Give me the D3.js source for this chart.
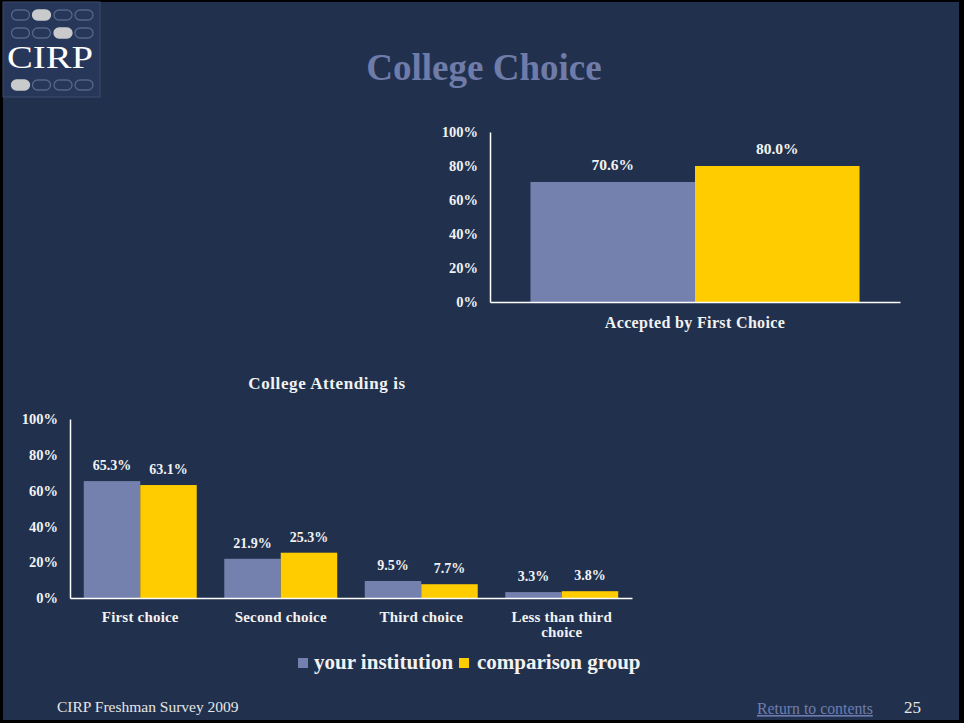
<!DOCTYPE html>
<html><head><meta charset="utf-8">
<script src="https://cdn.jsdelivr.net/npm/d3@7"></script>
<style>html,body{margin:0;padding:0;background:#000;}svg{display:block;}</style>
</head><body>
<script>
// ---- data ----
const topCategories = ["Accepted by First Choice"];
const topYours = [70.6];
const topComparison = [80.0];

const bottomCategories = ["First choice", "Second choice", "Third choice", "Less than third choice"];
const bottomYours = [65.3, 21.9, 9.5, 3.3];
const bottomComparison = [63.1, 25.3, 7.7, 3.8];

const seriesNames = ["your institution", "comparison group"];
const yTicks = [0, 20, 40, 60, 80, 100];

const W = 964, H = 723;
const BG = "#21314d", BLUE = "#7480ae", YELLOW = "#ffcc00", TXT = "#f2f2f2";
const FONT = "'Liberation Serif', 'DejaVu Serif', serif";

const svg = d3.select("body").append("svg").attr("width", W).attr("height", H);
svg.append("rect").attr("width", W).attr("height", H).attr("fill", "#000");
svg.append("rect").attr("x", 3).attr("y", 2).attr("width", 956).attr("height", 718).attr("fill", BG);

// ---- logo ----
const logo = svg.append("g");
logo.append("rect").attr("x", 3).attr("y", 2).attr("width", 97).attr("height", 95)
  .attr("fill", "#26375a").attr("stroke", "#3a4a6c").attr("stroke-width", 1);
const ovalRows = [{y: 15, filled: 1}, {y: 33, filled: 2}, {y: 85, filled: 0}];
const ovalX = [20.5, 41.5, 63, 84];
ovalRows.forEach(r => {
  ovalX.forEach((x, i) => {
    logo.append("rect").attr("x", x - 9).attr("y", r.y - 5).attr("width", 18).attr("height", 10)
      .attr("rx", 5).attr("ry", 5)
      .attr("fill", i === r.filled ? "#c9cacc" : "none")
      .attr("stroke", i === r.filled ? "#c9cacc" : "#56668a").attr("stroke-width", 1.3);
  });
});
logo.append("text").attr("x", 7).attr("y", 68)
  .attr("font-family", FONT).attr("font-size", 32).attr("fill", "#ffffff")
  .attr("textLength", 86).attr("lengthAdjust", "spacingAndGlyphs").text("CIRP");

// ---- title ----
svg.append("text").attr("x", 484).attr("y", 80).attr("text-anchor", "middle")
  .attr("font-family", FONT).attr("font-weight", "bold").attr("font-size", 37)
  .attr("fill", "#6f7ba8").text("College Choice");

function drawChart(opt) {
  const g = svg.append("g");
  const y = d3.scaleLinear().domain([0, 100]).range([opt.y0, opt.y1]);
  const x0 = d3.scaleBand().domain(opt.categories).range([opt.x0, opt.x1])
    .paddingInner(opt.pi).paddingOuter(opt.po);
  const x1 = d3.scaleBand().domain(seriesNames).range([0, x0.bandwidth()]);

  // y axis
  const ya = g.append("g").attr("transform", `translate(${opt.x0},0)`)
    .call(d3.axisLeft(y).tickValues(yTicks).tickSize(0).tickPadding(opt.tickPad).tickFormat(d => d + "%"));
  ya.select(".domain").attr("stroke", "#ffffff").attr("stroke-width", 1.5);
  ya.selectAll("text").attr("font-family", FONT).attr("font-weight", "bold")
    .attr("font-size", 14.5).attr("fill", TXT);

  const data = opt.categories.map((c, i) => ({c, vals: [opt.yours[i], opt.comp[i]]}));
  const groups = g.selectAll(".grp").data(data).enter().append("g")
    .attr("transform", d => `translate(${x0(d.c)},0)`);
  groups.selectAll("rect").data(d => d.vals.map((v, i) => ({v, s: seriesNames[i], i})))
    .enter().append("rect")
    .attr("x", d => x1(d.s)).attr("width", x1.bandwidth())
    .attr("y", d => y(d.v)).attr("height", d => y(0) - y(d.v))
    .attr("fill", d => d.i === 0 ? BLUE : YELLOW);
  groups.selectAll("text.lab").data(d => d.vals.map((v, i) => ({v, s: seriesNames[i], i})))
    .enter().append("text").attr("class", "lab")
    .attr("x", d => x1(d.s) + x1.bandwidth() / 2).attr("y", d => y(d.v) - opt.labGap)
    .attr("text-anchor", "middle").attr("font-family", FONT).attr("font-weight", "bold")
    .attr("font-size", opt.labSize).attr("fill", TXT).text(d => d.v.toFixed(1) + "%");

  // x axis
  const xa = g.append("g").attr("transform", `translate(0,${opt.y0})`)
    .call(d3.axisBottom(x0).tickSize(0).tickPadding(0).tickFormat(""));
  xa.select(".domain").attr("stroke", "#ffffff").attr("stroke-width", 1.5);
  // category labels (wrapped)
  opt.categories.forEach(c => {
    const lines = opt.wrap[c] || [c];
    const t = g.append("text").attr("text-anchor", "middle").attr("font-family", FONT)
      .attr("font-weight", "bold").attr("font-size", opt.catSize)
      .attr("letter-spacing", opt.catSpacing).attr("fill", TXT);
    lines.forEach((ln, k) => {
      t.append("tspan").attr("x", x0(c) + x0.bandwidth() / 2)
        .attr("y", opt.y0 + opt.labOff + k * 15).text(ln);
    });
  });
  return {x0, y};
}

drawChart({
  categories: topCategories, yours: topYours, comp: topComparison,
  x0: 490, x1: 900, y0: 302, y1: 132, pi: 0, po: 0.123, tickPad: 12, labOff: 26,
  labSize: 15.5, labGap: 12, catSize: 16, catSpacing: 0.35, wrap: {}
});

svg.append("text").attr("x", 327).attr("y", 389).attr("text-anchor", "middle")
  .attr("font-family", FONT).attr("font-weight", "bold").attr("font-size", 17)
  .attr("letter-spacing", 0.6).attr("fill", TXT).text("College Attending is");

drawChart({
  categories: bottomCategories, yours: bottomYours, comp: bottomComparison,
  x0: 70, x1: 632, y0: 598, y1: 419, pi: 0.196, po: 0.098, tickPad: 12, labOff: 24,
  labSize: 14, labGap: 11, catSize: 15, catSpacing: 0.2,
  wrap: {"Less than third choice": ["Less than third", "choice"]}
});

// ---- legend ----
const leg = svg.append("g");
leg.append("rect").attr("x", 298).attr("y", 658).attr("width", 10).attr("height", 10).attr("fill", BLUE);
leg.append("text").attr("x", 314).attr("y", 669).attr("font-family", FONT).attr("font-weight", "bold")
  .attr("font-size", 21).attr("fill", TXT).text(seriesNames[0]);
leg.append("rect").attr("x", 459).attr("y", 658).attr("width", 10).attr("height", 10).attr("fill", YELLOW);
leg.append("text").attr("x", 477).attr("y", 669).attr("font-family", FONT).attr("font-weight", "bold")
  .attr("font-size", 21).attr("fill", TXT).text(seriesNames[1]);

// ---- footer ----
svg.append("text").attr("x", 57).attr("y", 712).attr("font-family", FONT).attr("font-size", 15.5)
  .attr("fill", "#e6e6e6").text("CIRP Freshman Survey 2009");
svg.append("text").attr("x", 757).attr("y", 714).attr("font-family", FONT).attr("font-size", 15.8)
  .attr("fill", "#6f7cb0").attr("text-decoration", "underline").text("Return to contents");
svg.append("text").attr("x", 904).attr("y", 713).attr("font-family", FONT).attr("font-size", 17)
  .attr("fill", "#e6e6e6").text("25");
</script>
</body></html>
